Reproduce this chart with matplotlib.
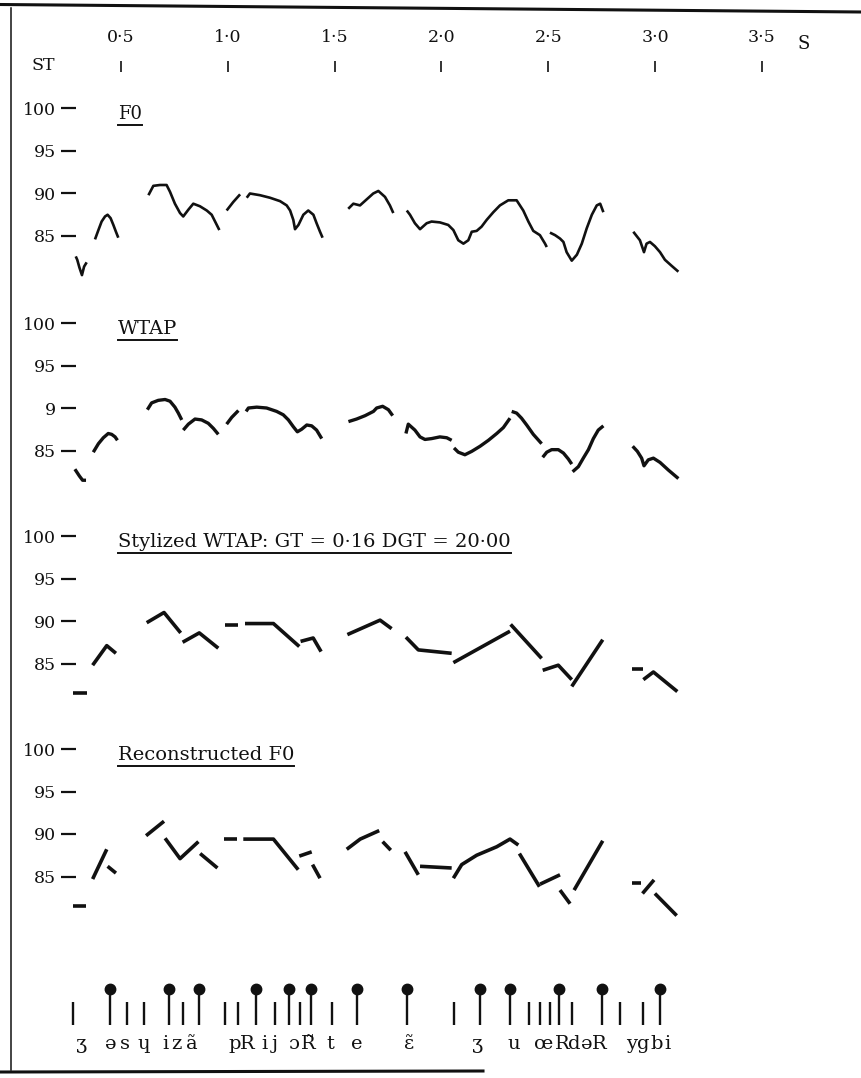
import matplotlib.pyplot as plt
from matplotlib.lines import Line2D

plt.rcParams['font.family'] = ['DejaVu Serif']

# ---- data: time (s) and pitch (semitones) of every voiced stretch ----
f0_t = [
    [0.289, 0.296, 0.306, 0.318, 0.328, 0.340],
    [0.379, 0.395, 0.410, 0.426, 0.438, 0.452, 0.465, 0.477, 0.488],
    [0.629, 0.652, 0.683, 0.714, 0.730, 0.753, 0.777, 0.792, 0.816, 0.839, 0.870, 0.902, 0.925, 0.941, 0.961],
    [0.995, 1.026, 1.058],
    [1.089, 1.104, 1.151, 1.198, 1.245, 1.276, 1.292, 1.307, 1.315, 1.331, 1.354, 1.377, 1.401, 1.416, 1.432, 1.444],
    [1.564, 1.588, 1.619, 1.650, 1.681, 1.705, 1.736, 1.759, 1.775],
    [1.838, 1.853, 1.876, 1.900, 1.931, 1.954, 1.993, 2.032, 2.056, 2.079, 2.103, 2.126, 2.142, 2.165, 2.188,
     2.212, 2.243, 2.274, 2.313, 2.352, 2.383, 2.407, 2.430, 2.461, 2.485, 2.493],
    [2.508, 2.532, 2.555, 2.571, 2.586, 2.610, 2.634, 2.657, 2.680, 2.704, 2.727, 2.743, 2.758],
    [2.898, 2.929, 2.948, 2.960, 2.976, 2.999, 3.023, 3.046, 3.077, 3.109],
]
f0_st = [
    [82.6, 82.2, 81.3, 80.4, 81.4, 81.9],
    [84.6, 85.7, 86.7, 87.3, 87.5, 87.1, 86.3, 85.5, 84.8],
    [89.8, 90.9, 91.0, 91.0, 90.2, 88.8, 87.7, 87.3, 88.1, 88.8, 88.5, 88.0, 87.5, 86.7, 85.7],
    [88.0, 89.0, 89.9],
    [89.5, 90.0, 89.8, 89.5, 89.1, 88.6, 88.0, 86.9, 85.8, 86.3, 87.5, 88.0, 87.5, 86.5, 85.5, 84.8],
    [88.2, 88.8, 88.6, 89.3, 90.0, 90.3, 89.6, 88.6, 87.7],
    [88.0, 87.5, 86.5, 85.8, 86.5, 86.7, 86.6, 86.3, 85.7, 84.5, 84.1, 84.5, 85.5, 85.6, 86.1,
     86.9, 87.8, 88.6, 89.2, 89.2, 88.0, 86.7, 85.6, 85.1, 84.1, 83.7],
    [85.4, 85.1, 84.7, 84.3, 83.1, 82.1, 82.8, 84.1, 85.9, 87.5, 88.6, 88.8, 87.8],
    [85.5, 84.5, 83.1, 84.1, 84.3, 83.8, 83.1, 82.2, 81.5, 80.8],
]

wtap_t = [
    [0.285, 0.306, 0.321, 0.337],
    [0.371, 0.395, 0.418, 0.441, 0.457, 0.473, 0.484],
    [0.624, 0.644, 0.675, 0.707, 0.730, 0.753, 0.769, 0.785],
    [0.792, 0.816, 0.847, 0.878, 0.909, 0.933, 0.956],
    [0.995, 1.019, 1.050],
    [1.086, 1.097, 1.136, 1.182, 1.229, 1.260, 1.284, 1.307, 1.326, 1.346, 1.370, 1.393, 1.416, 1.440],
    [1.565, 1.603, 1.643, 1.682, 1.697, 1.725, 1.752, 1.772],
    [1.834, 1.845, 1.876, 1.900, 1.923, 1.954, 1.993, 2.025, 2.048],
    [2.059, 2.079, 2.110, 2.142, 2.181, 2.220, 2.259, 2.290, 2.321],
    [2.329, 2.352, 2.375, 2.399, 2.430, 2.469],
    [2.474, 2.493, 2.516, 2.547, 2.571, 2.594, 2.610],
    [2.614, 2.641, 2.664, 2.688, 2.711, 2.734, 2.758],
    [2.895, 2.917, 2.937, 2.948, 2.968, 2.992, 3.023, 3.062, 3.109],
]
wtap_st = [
    [82.8, 82.0, 81.5, 81.5],
    [84.8, 85.8, 86.5, 87.0, 86.9, 86.6, 86.2],
    [89.8, 90.6, 90.9, 91.0, 90.8, 90.1, 89.4, 88.6],
    [87.4, 88.1, 88.7, 88.6, 88.2, 87.6, 86.9],
    [88.1, 88.9, 89.7],
    [89.6, 90.0, 90.1, 90.0, 89.6, 89.2, 88.6, 87.8, 87.2, 87.5, 88.0, 87.9, 87.4, 86.4],
    [88.4, 88.7, 89.1, 89.6, 90.0, 90.2, 89.8, 89.1],
    [87.0, 88.1, 87.4, 86.6, 86.3, 86.4, 86.6, 86.5, 86.2],
    [85.3, 84.8, 84.5, 84.9, 85.5, 86.2, 87.0, 87.7, 88.8],
    [89.6, 89.4, 88.8, 88.0, 86.9, 85.8],
    [84.2, 84.8, 85.1, 85.1, 84.7, 84.0, 83.4],
    [82.5, 83.1, 84.1, 85.1, 86.4, 87.4, 87.9],
    [85.5, 84.9, 84.1, 83.2, 83.9, 84.1, 83.6, 82.7, 81.7],
]

styl_t = [
    [0.278, 0.340], [0.368, 0.434, 0.477], [0.621, 0.702, 0.780], [0.789, 0.867, 0.956],
    [0.987, 1.050], [1.081, 1.214, 1.335], [1.341, 1.400, 1.437], [1.560, 1.713, 1.767],
    [1.834, 1.892, 2.048], [2.056, 2.321], [2.324, 2.469], [2.474, 2.547, 2.610],
    [2.610, 2.755], [2.890, 2.942], [2.945, 2.992, 3.104],
]
styl_st = [
    [81.5, 81.5], [84.8, 87.1, 86.2], [89.8, 91.0, 88.6], [87.5, 88.6, 86.8],
    [89.5, 89.5], [89.7, 89.7, 87.0], [87.6, 88.0, 86.4], [88.4, 90.1, 89.1],
    [88.1, 86.6, 86.2], [85.1, 88.8], [89.6, 85.6], [84.2, 84.8, 83.1],
    [82.3, 87.8], [84.4, 84.4], [83.1, 84.0, 81.7],
]

rec_t = [
    [0.278, 0.337], [0.368, 0.434], [0.438, 0.477], [0.618, 0.702], [0.707, 0.777, 0.863],
    [0.871, 0.952], [0.983, 1.042], [1.073, 1.214, 1.330], [1.335, 1.393], [1.397, 1.432],
    [1.557, 1.620, 1.709], [1.725, 1.763], [1.830, 1.853, 1.892], [1.900, 2.048],
    [2.056, 2.095, 2.165, 2.259, 2.321, 2.360], [2.365, 2.459], [2.462, 2.555], [2.555, 2.602],
    [2.621, 2.755], [2.890, 2.932], [2.941, 2.995], [2.999, 3.101],
]
rec_st = [
    [81.5, 81.5], [84.7, 88.2], [86.2, 85.4], [89.8, 91.5], [89.5, 87.1, 89.1],
    [87.7, 86.0], [89.4, 89.4], [89.4, 89.4, 85.8], [87.4, 87.9], [86.4, 84.8],
    [88.2, 89.4, 90.4], [89.1, 88.1], [87.9, 86.9, 85.2], [86.2, 86.0],
    [84.8, 86.4, 87.5, 88.5, 89.4, 88.7], [87.7, 83.8], [84.1, 85.2], [83.4, 81.8],
    [83.4, 89.2], [84.2, 84.2], [83.0, 84.6], [83.0, 80.4],
]

titles = ["F0", "WTAP", "Stylized WTAP: GT = 0·16 DGT = 20·00", "Reconstructed F0"]
st_ticks = [85, 90, 95, 100]
st_ticklabels = [
    ["85", "90", "95", "100"],
    ["85", "9", "95", "100"],
    ["85", "90", "95", "100"],
    ["85", "90", "95", "100"],
]
time_ticks = [0.5, 1.0, 1.5, 2.0, 2.5, 3.0, 3.5]
time_ticklabels = ["0·5", "1·0", "1·5", "2·0", "2·5", "3·0", "3·5"]

# segment boundaries: plain ones and the stressed (accented) ones
plain_marks = [0.276, 0.531, 0.608, 0.791, 0.987, 1.046, 1.221, 1.336, 1.486,
               2.057, 2.412, 2.463, 2.507, 2.610, 2.836, 2.943]
stressed_marks = [0.449, 0.724, 0.866, 1.131, 1.285, 1.388, 1.606, 1.838,
                  2.181, 2.321, 2.551, 2.752, 3.021]
phonemes = ["ʒ", "ə", "s", "ɥ", "i", "z", "ã", "p", "R", "i", "j", "ɔ", "R̃", "t", "e",
            "ɛ̃", "ʒ", "u", "œ", "R", "d", "ə", "R", "y", "g", "b", "i"]
phoneme_t = [0.318, 0.454, 0.519, 0.608, 0.707, 0.758, 0.833, 1.034, 1.090, 1.170,
             1.221, 1.310, 1.376, 1.479, 1.605, 1.848, 2.171, 2.340, 2.480, 2.564,
             2.620, 2.681, 2.737, 2.892, 2.943, 3.009, 3.060]

# ---- layout (pixels) ----
W, H = 862, 1078
T0_PX, PX_PER_S = 14, 213.7
PX_PER_ST = 8.5
XLIM = (-T0_PX / PX_PER_S, (W - T0_PX) / PX_PER_S)
INK = '#111111'

fig = plt.figure(figsize=(W / 100, H / 100), dpi=100)
fig.patch.set_facecolor('white')


def strip_axes(top, bottom):
    ax = fig.add_axes([0, 1 - bottom / H, 1, (bottom - top) / H])
    ax.set_xlim(*XLIM)
    ax.patch.set_visible(False)
    for s in ax.spines.values():
        s.set_visible(False)
    ax.tick_params(axis='x', bottom=False, labelbottom=False)
    return ax


# rows of the 90 ST line and vertical extent of each panel
row90 = [193.5, 408, 621, 834]
extent = [(88, 300), (300, 515), (515, 728), (728, 960)]
panels = [(f0_t, f0_st, 1.9), (wtap_t, wtap_st, 2.4), (styl_t, styl_st, 2.6), (rec_t, rec_st, 2.6)]

title_texts = []
for k, (ts, sts, lw) in enumerate(panels):
    top, bottom = extent[k]
    ax = strip_axes(top, bottom)
    ax.set_ylim(90 - (bottom - row90[k]) / PX_PER_ST, 90 + (row90[k] - top) / PX_PER_ST)
    for t, st in zip(ts, sts):
        ax.plot(t, st, color=INK, lw=lw, solid_capstyle='butt', solid_joinstyle='round')
    ax.spines['left'].set_position(('data', (76 - T0_PX) / PX_PER_S))
    ax.set_yticks(st_ticks)
    ax.set_yticklabels(st_ticklabels[k])
    ax.tick_params(axis='y', direction='out', length=10.5, width=1.6, pad=4,
                   labelsize=12.5, colors=INK)
    title_texts.append(ax.text(0.487, 99.3, titles[k], fontsize=14 if k else 13,
                               ha='left', va='center', color=INK))

# time scale along the top
ax_time = strip_axes(61, 62)
ax_time.set_xticks(time_ticks)
ax_time.set_xticklabels(time_ticklabels)
ax_time.tick_params(axis='x', top=True, bottom=False, labeltop=True, labelbottom=False,
                    direction='in', length=8, width=1.2, pad=11, labelsize=12.5, colors=INK)
ax_time.set_yticks([])
fig.text(43 / W, 1 - 65 / H, "ST", fontsize=12.5, ha='center', va='center', color=INK)
fig.text(804 / W, 1 - 44 / H, "S", fontsize=13, ha='center', va='center', color=INK)

# segmentation marks and transcription
ax_ph = strip_axes(983, 1025)
ax_ph.set_ylim(0, 1)
ax_ph.set_yticks([])
ax_ph.vlines(plain_marks, 0, 0.55, color=INK, lw=1.7)
ax_ph.vlines(stressed_marks, 0, 0.85, color=INK, lw=1.7)
ax_ph.plot(stressed_marks, [0.85] * len(stressed_marks), 'o', color=INK, ms=7.5)
for ph, t in zip(phonemes, phoneme_t):
    ax_ph.text(t, -0.45, ph, fontsize=14, ha='center', va='center', color=INK, clip_on=False)

# underline the panel titles
fig.canvas.draw()
for txt in title_texts:
    bb = txt.get_window_extent()
    y = (bb.y0 - 2) / H
    fig.add_artist(Line2D([bb.x0 / W, bb.x1 / W], [y, y], transform=fig.transFigure,
                          color=INK, lw=1.4))

# page frame of the original sheet
fig.add_artist(Line2D([0, 1], [1 - 4.5 / H, 1 - 12 / H], transform=fig.transFigure, color=INK, lw=2.2))
fig.add_artist(Line2D([11.5 / W, 11.5 / W], [1 - 8 / H, 1 - 1070 / H], transform=fig.transFigure,
                      color=INK, lw=1.1))
fig.add_artist(Line2D([0, 483 / W], [1 - 1072 / H, 1 - 1071 / H], transform=fig.transFigure,
                      color=INK, lw=2.2))

fig.savefig('out.png', dpi=100)
